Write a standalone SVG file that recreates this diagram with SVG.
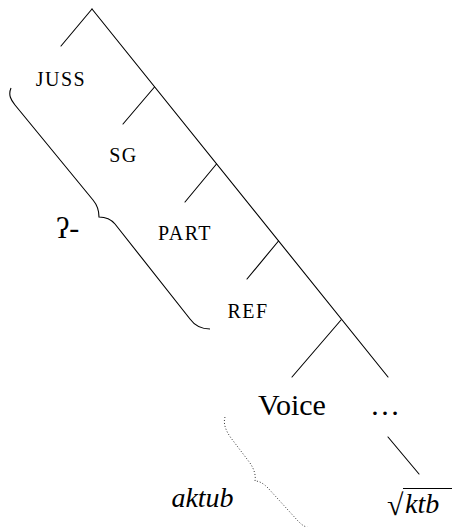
<svg xmlns="http://www.w3.org/2000/svg" width="452" height="527" viewBox="0 0 452 527">
  <rect width="452" height="527" fill="#fff"/>

  <!-- tree branches -->
  <g id="connectors" stroke="#000" stroke-width="1.1" fill="none" stroke-linecap="round">
    <line x1="92" y1="9" x2="388" y2="377"/>
    <line x1="92" y1="9" x2="61" y2="46"/>
    <line x1="154.5" y1="87" x2="123" y2="124"/>
    <line x1="216.5" y1="164" x2="185" y2="202"/>
    <line x1="278.5" y1="241" x2="247" y2="279"/>
    <line x1="341" y1="320" x2="292" y2="377"/>
    <line x1="388" y1="437" x2="419" y2="474"/>
  </g>

  <!-- bracket grouping the prefix heads -->
  <path id="prefix-brace" stroke="#000" stroke-width="1.1" fill="none" d="M11,88 C8,95 11,100 15,105 L93,200 C98,206 99,211 99,217 C103,217 110,218 115,224 L190,319 C195,326 202,329 210,329"/>

  <!-- dotted bracket for the stem -->
  <path id="stem-brace" stroke="#333" stroke-width="1" fill="none" stroke-dasharray="1 2" d="M225,417 C223,424 226,431 231,438 L250,463 C254,469 256,475 255,481 C259,481 263,483 268,488 L298,521 C301,524 304,527 310,528"/>

  <g id="juss"><text style="font-family:'Liberation Serif',serif;font-size:20px;letter-spacing:1.5px" text-anchor="middle" x="61" y="86">JUSS</text></g>
  <g id="sg"><text style="font-family:'Liberation Serif',serif;font-size:20px;letter-spacing:1.5px" text-anchor="middle" x="123.5" y="162">SG</text></g>
  <g id="part"><text style="font-family:'Liberation Serif',serif;font-size:20px;letter-spacing:1.5px" text-anchor="middle" x="185" y="240">PART</text></g>
  <g id="ref"><text style="font-family:'Liberation Serif',serif;font-size:20px;letter-spacing:1.5px" text-anchor="middle" x="248" y="318">REF</text></g>
  <g id="glottal"><text style="font-family:'Liberation Serif',serif;font-size:30px" x="56" y="238">ʔ-</text></g>
  <g id="voice"><text style="font-family:'Liberation Serif',serif;font-size:30px" x="292" y="415" text-anchor="middle">Voice</text></g>
  <g id="ellipsis"><text style="font-family:'Liberation Serif',serif;font-size:30px" x="385" y="415" text-anchor="middle">…</text></g>
  <g id="aktub"><text style="font-family:'Liberation Serif',serif;font-size:28px;font-style:italic" x="202.5" y="507" text-anchor="middle">aktub</text></g>
  <g id="radical">
    <text style="font-family:'Liberation Serif',serif;font-size:30px" x="387" y="515">√</text>
    <line x1="403" y1="488.5" x2="452" y2="488.5" stroke="#000" stroke-width="1.1"/>
    <text style="font-family:'Liberation Serif',serif;font-size:28px;font-style:italic" x="405" y="513">ktb</text>
  </g>
</svg>
